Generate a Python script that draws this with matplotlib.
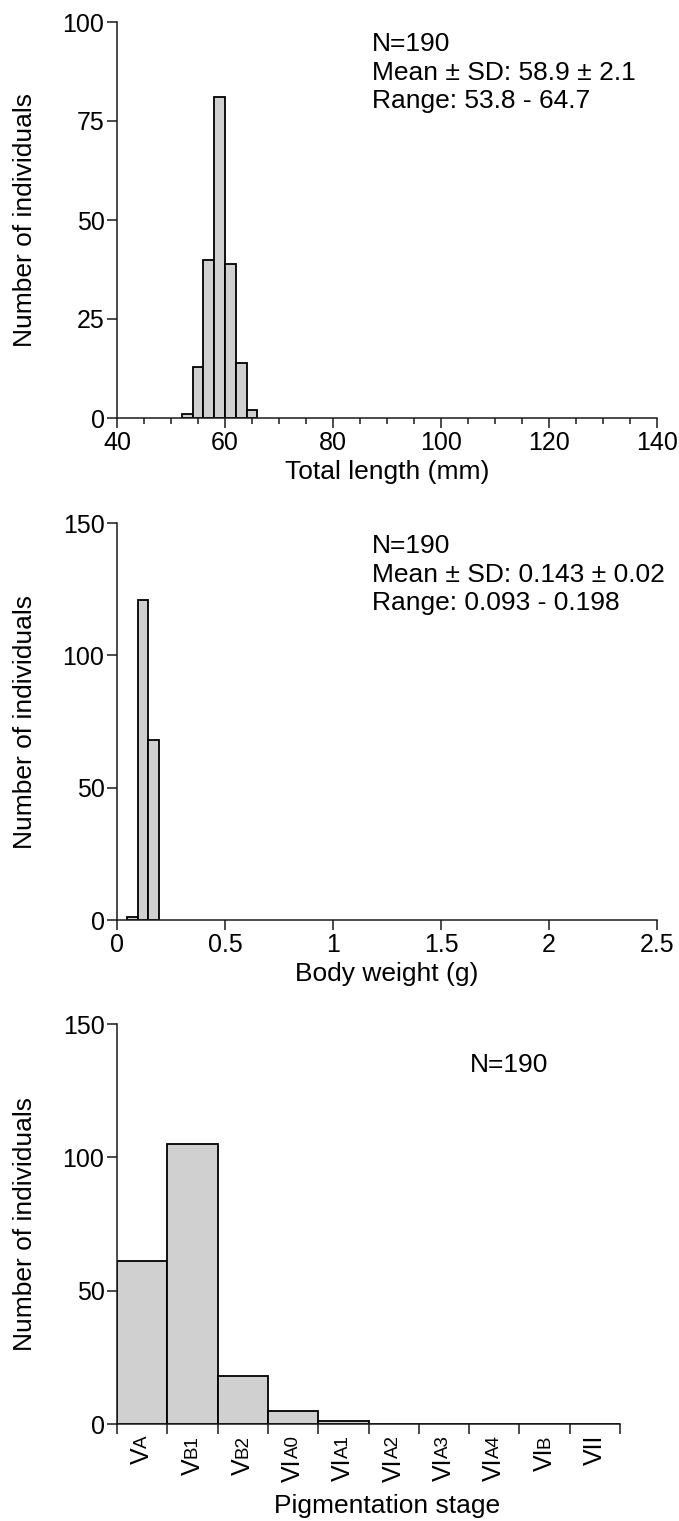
import matplotlib
matplotlib.use("Agg")
import matplotlib.pyplot as plt
from matplotlib.ticker import MultipleLocator
import numpy as np

plt.rcParams['font.family'] = ['Liberation Sans', 'DejaVu Sans']

# ---- data ----
length_edges = [52, 54, 56, 58, 60, 62, 64, 66]
length_counts = [1, 13, 40, 81, 39, 14, 2]

weight_edges = [0.045, 0.095, 0.145, 0.195]
weight_counts = [1, 121, 68]

stage_main = ["V", "V", "V", "VI", "VI", "VI", "VI", "VI", "VI", "VII"]
stage_sub = ["A", "B1", "B2", "A0", "A1", "A2", "A3", "A4", "B", ""]
stage_counts = [61, 105, 18, 5, 1, 0, 0, 0, 0, 0]

text1 = ["N=190", "Mean \u00b1 SD: 58.9 \u00b1 2.1", "Range: 53.8 - 64.7"]
text2 = ["N=190", "Mean \u00b1 SD: 0.143 \u00b1 0.02", "Range: 0.093 - 0.198"]
text3 = ["N=190"]

W, H = 679, 1521
fig = plt.figure(figsize=(W / 100, H / 100), dpi=100)

FACE = '#d0d0d0'
TICKFS = 18
LABFS = 19
TXTFS = 19
INK = '#1a1a1a'


def frac(l, t, r, b):
    return [l / W, 1 - b / H, (r - l) / W, (b - t) / H]


def style(ax, width_px):
    for s in ['top', 'right']:
        ax.spines[s].set_visible(False)
    for s in ['left', 'bottom']:
        ax.spines[s].set_linewidth(1.1)
        ax.spines[s].set_color(INK)
    ax.tick_params(which='major', direction='out', length=7, width=1.1,
                   labelsize=TICKFS, color=INK, pad=2)
    ax.tick_params(which='minor', direction='out', length=4.5, width=1.1,
                   color=INK)
    ax.set_ylabel("Number of individuals", fontsize=LABFS)
    ax.yaxis.set_label_coords((37 - 117) / width_px, 0.5)


def hist(ax, edges, counts):
    edges = np.asarray(edges, float)
    ax.bar(edges[:-1], counts, width=np.diff(edges), align='edge',
           facecolor=FACE, edgecolor='black', linewidth=1.3, zorder=2)


def stats(ax, lines, x, y, dy):
    for i, s in enumerate(lines):
        ax.text(x, y - i * dy, s, transform=ax.transAxes, fontsize=TXTFS,
                ha='left', va='center')


# Panel 1
ax1 = fig.add_axes(frac(117, 22, 657, 418))
hist(ax1, length_edges, length_counts)
ax1.set_xlim(40, 140)
ax1.set_ylim(0, 100)
ax1.xaxis.set_major_locator(MultipleLocator(20))
ax1.xaxis.set_minor_locator(MultipleLocator(5))
ax1.yaxis.set_major_locator(MultipleLocator(25))
style(ax1, 540)
ax1.set_xlabel("Total length (mm)", fontsize=LABFS, labelpad=4)
stats(ax1, text1, 0.472, 0.944, 0.072)

# Panel 2
ax2 = fig.add_axes(frac(117, 523, 657, 920))
hist(ax2, weight_edges, weight_counts)
ax2.set_xlim(0, 2.5)
ax2.set_ylim(0, 150)
ax2.yaxis.set_major_locator(MultipleLocator(50))
style(ax2, 540)
ax2.set_xticks([0, 0.5, 1, 1.5, 2, 2.5])
ax2.set_xticklabels(["0", "0.5", "1", "1.5", "2", "2.5"])
ax2.set_xlabel("Body weight (g)", fontsize=LABFS, labelpad=4)
stats(ax2, text2, 0.472, 0.942, 0.072)

# Panel 3
ax3 = fig.add_axes(frac(117, 1024, 620, 1424))
pos = np.arange(len(stage_counts))
ax3.bar(pos, stage_counts, width=1.0, align='edge', facecolor=FACE,
        edgecolor='black', linewidth=1.3, zorder=2)
ax3.set_xlim(0, len(stage_counts))
ax3.set_ylim(0, 150)
ax3.yaxis.set_major_locator(MultipleLocator(50))
ax3.set_xticks(np.arange(len(stage_counts) + 1))
ax3.set_xticklabels([])
style(ax3, 503)
for i, (m, s) in enumerate(zip(stage_main, stage_sub)):
    anchor = dict(xy=(i + 0.5, 0), xycoords=('data', 'axes fraction'),
                  xytext=(0, -8), textcoords='offset points')
    if s:
        st = ax3.annotate(s, rotation=90, ha='center', va='top',
                          fontsize=TICKFS * 0.75, **anchor)
        ax3.annotate(m, xy=(0.5, 0.0), xycoords=st, xytext=(0, 0),
                     textcoords='offset points', rotation=90,
                     ha='center', va='top', fontsize=TICKFS)
    else:
        ax3.annotate(m, rotation=90, ha='center', va='top',
                     fontsize=TICKFS, **anchor)
fig.text(387 / W, 1 - 1506 / H, "Pigmentation stage", fontsize=LABFS,
         ha='center', va='center')
stats(ax3, text3, 0.702, 0.8975, 0.072)

fig.savefig("out.png", dpi=100)
